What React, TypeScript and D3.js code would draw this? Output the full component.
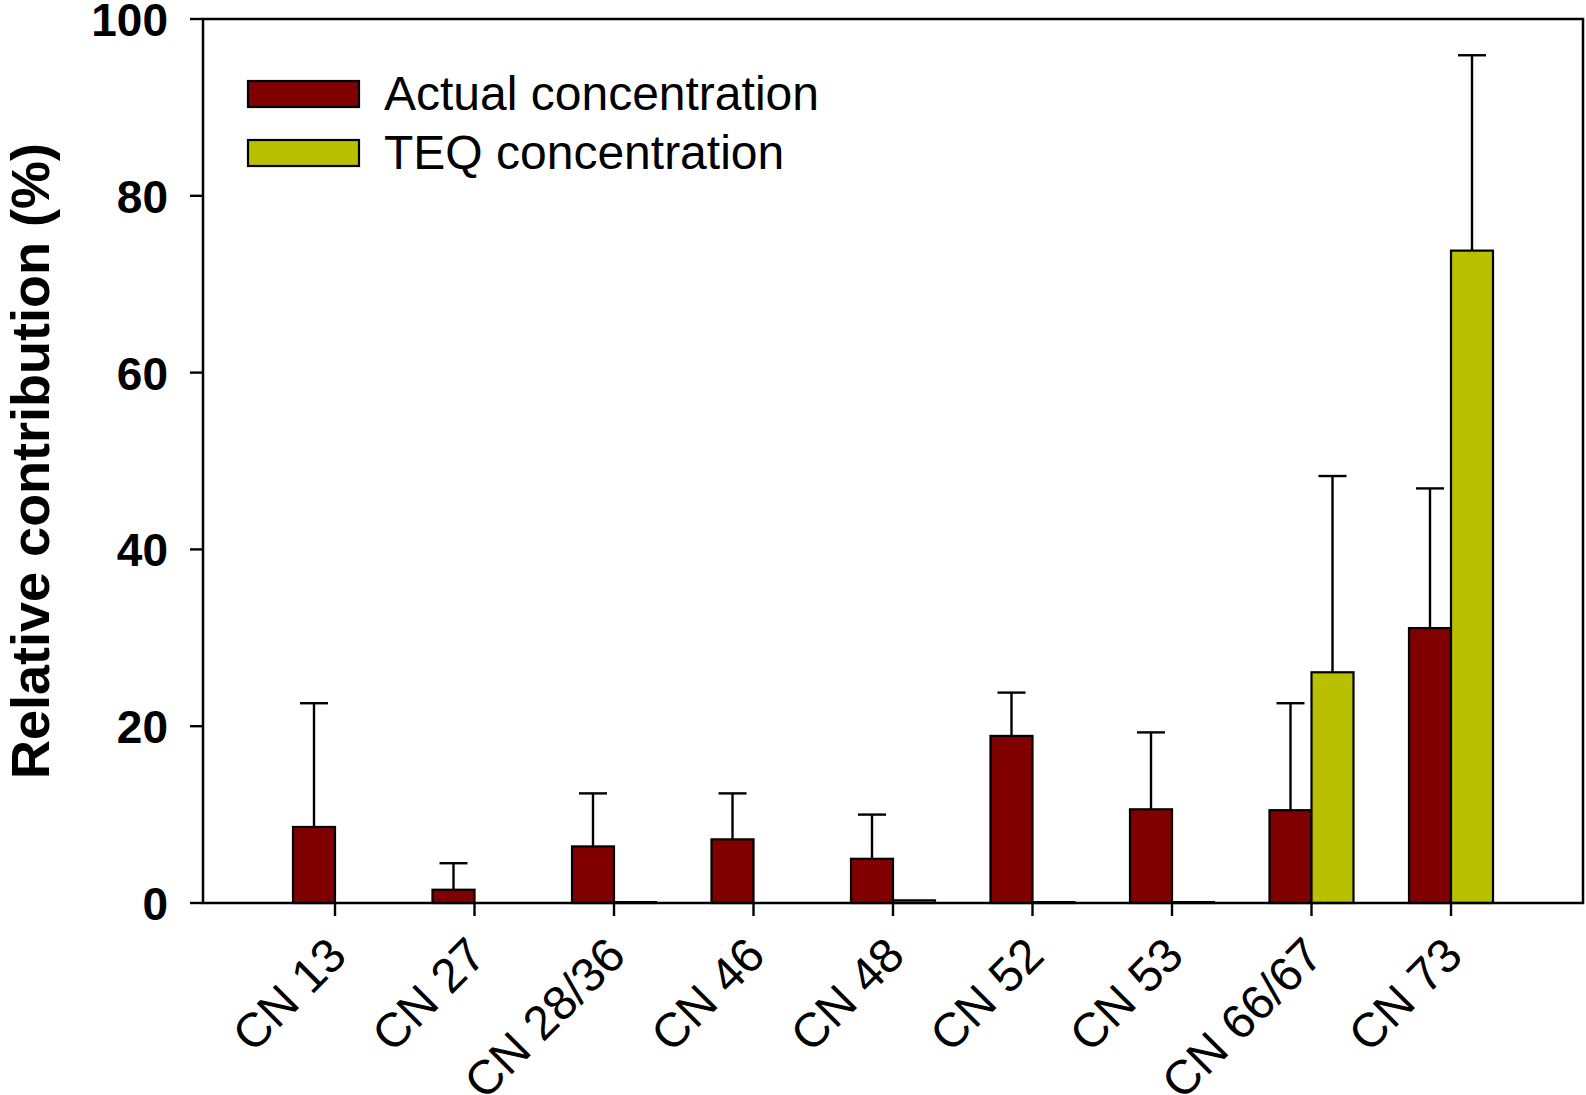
import React from "react";
import * as d3 from "d3";

const categories = ["CN 13", "CN 27", "CN 28/36", "CN 46", "CN 48", "CN 52", "CN 53", "CN 66/67", "CN 73"];
const actualValues = [8.6, 1.5, 6.4, 7.2, 5.0, 18.9, 10.6, 10.5, 31.1];
const actualErrors = [14.0, 3.0, 6.0, 5.2, 5.0, 4.9, 8.7, 12.1, 15.8];
const teqValues = [0, 0, 0.1, 0, 0.3, 0.1, 0.1, 26.1, 73.8];
const teqErrors = [0, 0, 0, 0, 0, 0, 0, 22.2, 22.1];
const yTicks = [0, 20, 40, 60, 80, 100];
const seriesNames = ["Actual concentration", "TEQ concentration"];
const seriesColors = ["#800000", "#b9c000"];

const W = 1586;
const H = 1095;
const left = 203;
const right = 1583;
const top = 19;
const bottom = 903;
const barW = 42;
const capW = 28;
const font = "'Liberation Sans', Arial, Helvetica, sans-serif";

export default function App() {
  const y = d3.scaleLinear().domain([0, 100]).range([bottom, top]);
  const x = d3.scalePoint<string>().domain(categories).range([left + 132, right - 132]);

  const series = [
    { values: actualValues, errors: actualErrors, offset: -barW, color: seriesColors[0] },
    { values: teqValues, errors: teqErrors, offset: 0, color: seriesColors[1] },
  ];

  return (
    <svg width={W} height={H} style={{ position: "absolute", left: 0, top: 0, background: "#fff" }}>
      {series.map((s, si) =>
        categories.map((c, i) => {
          const v = s.values[i];
          if (v <= 0) return null;
          const bx = (x(c) as number) + s.offset;
          const by = y(v);
          return (
            <rect
              key={`b${si}-${i}`}
              x={bx}
              y={by}
              width={barW}
              height={bottom - by}
              fill={s.color}
              stroke="#000"
              strokeWidth={2.2}
            />
          );
        })
      )}
      {series.map((s, si) =>
        categories.map((c, i) => {
          const e = s.errors[i];
          if (!e) return null;
          const cx = (x(c) as number) + s.offset + barW / 2;
          const y0 = y(s.values[i]);
          const y1 = y(s.values[i] + e);
          return (
            <g key={`e${si}-${i}`} stroke="#000" strokeWidth={2.4}>
              <line x1={cx} x2={cx} y1={y0} y2={y1} />
              <line x1={cx - capW / 2} x2={cx + capW / 2} y1={y1} y2={y1} />
            </g>
          );
        })
      )}
      <rect x={left} y={top} width={right - left} height={bottom - top} fill="none" stroke="#000" strokeWidth={2.5} />
      {yTicks.map((t) => (
        <g key={`yt${t}`}>
          <line x1={left - 13} x2={left} y1={y(t)} y2={y(t)} stroke="#000" strokeWidth={2.4} />
          <text
            x={168}
            y={y(t) + 17}
            textAnchor="end"
            fontFamily={font}
            fontWeight="bold"
            fontSize={46}
          >
            {t}
          </text>
        </g>
      ))}
      {categories.map((c) => {
        const cx = x(c) as number;
        return (
          <g key={`xt${c}`}>
            <line x1={cx} x2={cx} y1={bottom} y2={bottom + 13} stroke="#000" strokeWidth={2.4} />
            <text
              transform={`translate(${cx + 14},${bottom + 55}) rotate(-45)`}
              textAnchor="end"
              fontFamily={font}
              fontSize={48}
            >
              {c}
            </text>
          </g>
        );
      })}
      <text
        transform={`translate(49,${(top + bottom) / 2}) rotate(-90)`}
        textAnchor="middle"
        fontFamily={font}
        fontWeight="bold"
        fontSize={54}
      >
        Relative contribution (%)
      </text>
      {seriesNames.map((n, i) => (
        <g key={`lg${i}`}>
          <rect
            x={248}
            y={81 + i * 59}
            width={111}
            height={26}
            fill={seriesColors[i]}
            stroke="#000"
            strokeWidth={2.2}
          />
          <text x={384} y={110 + i * 59} fontFamily={font} fontSize={48}>
            {n}
          </text>
        </g>
      ))}
    </svg>
  );
}
